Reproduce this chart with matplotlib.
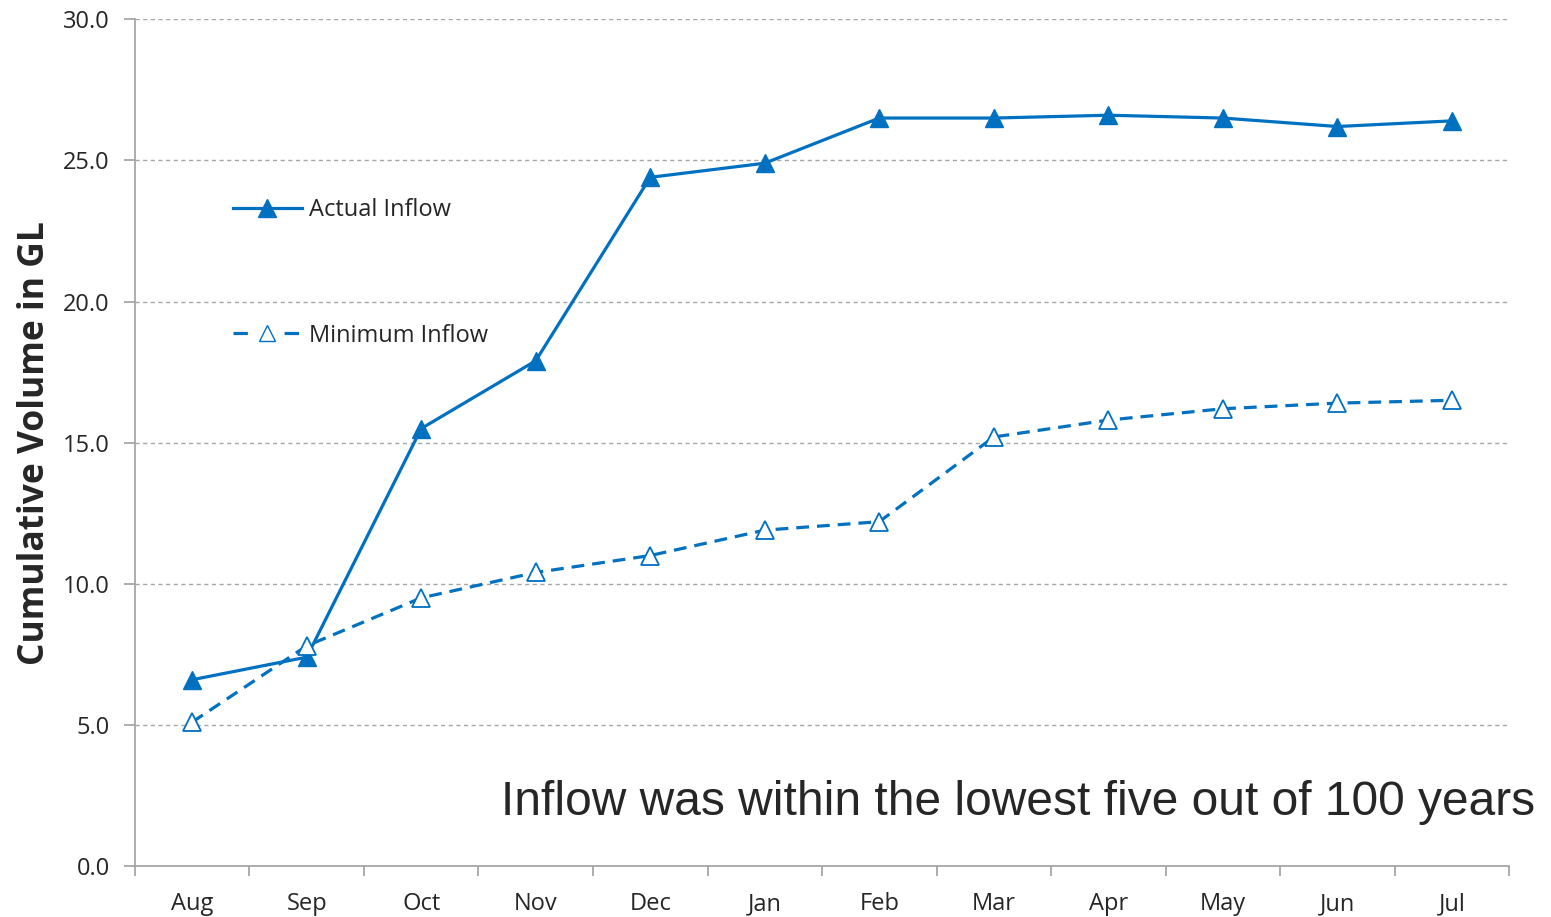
import matplotlib.pyplot as plt
from matplotlib.lines import Line2D

# data
months = ['Aug', 'Sep', 'Oct', 'Nov', 'Dec', 'Jan', 'Feb', 'Mar', 'Apr', 'May', 'Jun', 'Jul']
actual_inflow = [6.6, 7.4, 15.5, 17.9, 24.4, 24.9, 26.5, 26.5, 26.6, 26.5, 26.2, 26.4]
minimum_inflow = [5.1, 7.8, 9.5, 10.4, 11.0, 11.9, 12.2, 15.2, 15.8, 16.2, 16.4, 16.5]
y_ticks = [0, 5, 10, 15, 20, 25, 30]

BLUE = '#0070C0'
AXIS_GREY = '#A0A0A0'
TEXT = '#262626'

plt.rcParams['font.family'] = ['Open Sans', 'DejaVu Sans']

fig = plt.figure(figsize=(15.51, 9.17), dpi=100)
ax = fig.add_axes([0.087, 0.0556, 0.886, 0.9234])

x = list(range(len(months)))
ax.plot(x, actual_inflow, color=BLUE, lw=2.3, marker='^', markersize=13,
        markerfacecolor=BLUE, markeredgecolor=BLUE, label='Actual Inflow', zorder=3)
ax.plot(x, minimum_inflow, color=BLUE, lw=2.3, ls=(0, (4, 2.5)), marker='^', markersize=13,
        markerfacecolor='white', markeredgecolor=BLUE, markeredgewidth=1.3,
        label='Minimum Inflow', zorder=3)

ax.set_xlim(-0.5, len(months) - 0.5)
ax.set_ylim(0, 30)
ax.set_yticks(y_ticks)
ax.set_yticklabels([f'{v:.1f}' for v in y_ticks])
ax.set_xticks(x)
ax.set_xticklabels(months)
ax.set_xticks([i - 0.5 for i in range(len(months) + 1)], minor=True)
ax.tick_params(axis='x', which='major', length=0, pad=19, labelsize=17, labelcolor=TEXT)
ax.tick_params(axis='x', which='minor', length=7, width=1.2, color=AXIS_GREY, direction='out')
ax.tick_params(axis='y', length=8, width=1.2, color=AXIS_GREY, pad=10, labelsize=17, labelcolor=TEXT)

ax.grid(axis='y', color='#A6A6A6', ls=(0, (3, 2.5)), lw=1.0)
ax.set_axisbelow(True)
for side in ['top', 'right']:
    ax.spines[side].set_visible(False)
for side in ['left', 'bottom']:
    ax.spines[side].set_color(AXIS_GREY)
    ax.spines[side].set_linewidth(1.2)

ax.set_ylabel('Cumulative Volume in GL', fontsize=25.5, fontweight='bold', color=TEXT, labelpad=7)

# legend with wide spacing between rows
handles = [
    Line2D([], [], color=BLUE, lw=2.3, marker='^', markersize=13, markerfacecolor=BLUE),
    Line2D([], [], color=BLUE, lw=2.3, ls=(0, (4.5, 11.5)), marker='^', markersize=11,
           markerfacecolor='white', markeredgecolor=BLUE),
]
ax.legend(handles, ['Actual Inflow', 'Minimum Inflow'], loc='upper left',
          bbox_to_anchor=(0.056, 0.814), frameon=False, fontsize=17, labelspacing=4.3,
          handlelength=2.9, handletextpad=0.3, labelcolor=TEXT)

ax.text(1.019, 0.060, 'Inflow was within the lowest five out of 100 years', transform=ax.transAxes,
        ha='right', va='baseline', fontsize=34.5, family=['Liberation Sans', 'DejaVu Sans'], color=TEXT)

fig.savefig('out.png', dpi=100)
